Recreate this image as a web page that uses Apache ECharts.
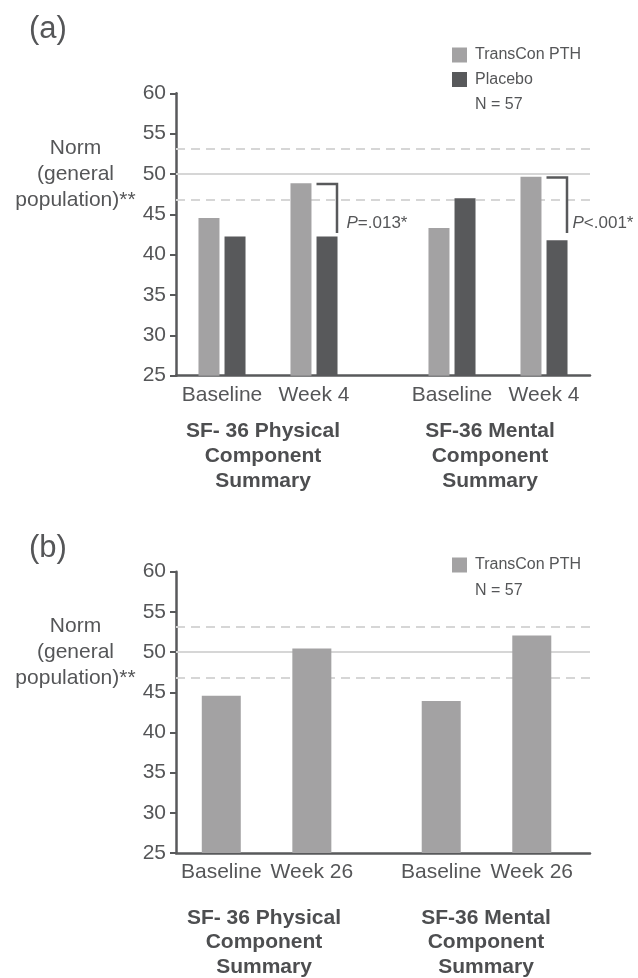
<!DOCTYPE html>
<html>
<head>
<meta charset="utf-8">
<script src="https://cdn.jsdelivr.net/npm/echarts@6/dist/echarts.min.js"></script>
<style>
  html, body { margin: 0; padding: 0; background: #fff; }
  #chart { width: 638px; height: 978px; }
</style>
</head>
<body>
<div id="chart"></div>
<script>
// ---- data ----
const timepointsA = ['Baseline', 'Week 4'];
const timepointsB = ['Baseline', 'Week 26'];
const components = ['SF- 36 Physical\nComponent\nSummary', 'SF-36 Mental\nComponent\nSummary'];
// order: PCS baseline, PCS week, MCS baseline, MCS week
const transconA = [44.55, 48.85, 43.3, 49.65];
const placeboA = [42.25, 42.25, 47.0, 41.8];
const transconB = [44.55, 50.45, 43.9, 52.05];
const normMean = 50;
const normBand = [46.85, 53.15];
const pLabels = ['=.013*', '<.001*'];
const bracketEnd = 42.7;
const nLabel = 'N = 57';
const yMin = 25, yMax = 60, yStep = 5;

// ---- layout helpers ----
const font = 'Liberation Sans, Arial, Helvetica, sans-serif';
const txt = '#555658';
const light = '#a3a2a3';
const dark = '#58595b';

// slot positions of the four bars/pairs on each axis
const slotsA = [1, 3, 6, 8], countA = 10;
const slotsB = [3, 10, 20, 27], countB = 32;

function spread (values, slots, count) {
  const out = new Array(count).fill('-');
  slots.forEach((s, i) => { out[s] = values[i] });
  return out;
}
const labelsA = spread(timepointsA.concat(timepointsA), slotsA, countA).map(v => v === '-' ? '' : v);
const labelsB = spread(timepointsB.concat(timepointsB), slotsB, countB).map(v => v === '-' ? '' : v);

const normLines = {
  silent: true,
  symbol: 'none',
  z: 1,
  label: { show: false },
  data: [
    { yAxis: normMean, lineStyle: { type: 'solid', color: '#d6d6d6', width: 2 } },
    { yAxis: normBand[0], lineStyle: { type: [9, 6], color: '#d6d6d6', width: 2 } },
    { yAxis: normBand[1], lineStyle: { type: [9, 6], color: '#d6d6d6', width: 2 } }
  ]
};

function yAxisOpt (gridIndex) {
  return {
    gridIndex: gridIndex,
    type: 'value',
    min: yMin,
    max: yMax,
    interval: yStep,
    axisLine: { show: true, lineStyle: { color: dark, width: 2.5 } },
    axisTick: { show: true, length: 6, lineStyle: { color: dark, width: 2 } },
    axisLabel: { color: txt, fontSize: 21, fontFamily: font, margin: 10 },
    splitLine: { show: false }
  };
}
function xAxisOpt (gridIndex, labels, boundaryGap) {
  return {
    gridIndex: gridIndex,
    type: 'category',
    data: labels,
    boundaryGap: boundaryGap,
    axisLine: { show: true, lineStyle: { color: dark, width: 2.5 } },
    axisTick: { show: false },
    axisLabel: { color: txt, fontSize: 21, fontFamily: font, margin: 9, interval: 0 },
    splitLine: { show: false }
  };
}

// bracket data: [slot of week pair, transcon value]
const bracketData = [
  [slotsA[1], transconA[1] ],
  [slotsA[3], transconA[3] ]
];

function textEl (x, y, text, opts) {
  return {
    type: 'text',
    x: x,
    y: y,
    silent: true,
    style: Object.assign({
      text: text,
      fill: txt,
      font: '21px ' + font,
      textAlign: 'center',
      textVerticalAlign: 'top'
    }, opts || {})
  };
}

const chart = echarts.init(document.getElementById('chart'));
const option = {
  animation: false,
  backgroundColor: '#fff',
  grid: [
    { left: 176, right: 48, top: 93.3, bottom: 978 - 375.7 },
    { left: 176, right: 48, top: 571.7, bottom: 978 - 853 }
  ],
  legend: [
    {
      data: ['TransCon PTH', 'Placebo'],
      orient: 'vertical', left: 452, top: 47, padding: 0,
      itemWidth: 15, itemHeight: 15, itemGap: 8.5, icon: 'rect',
      selectedMode: false,
      textStyle: { color: txt, fontSize: 16, fontFamily: font, padding: [0, 0, 0, 3] }
    },
    {
      data: ['TransCon PTH'],
      orient: 'vertical', left: 452, top: 557, padding: 0,
      itemWidth: 15, itemHeight: 15, icon: 'rect',
      selectedMode: false,
      textStyle: { color: txt, fontSize: 16, fontFamily: font, padding: [0, 0, 0, 3] }
    }
  ],
  xAxis: [xAxisOpt(0, labelsA, false), xAxisOpt(1, labelsB, true)],
  yAxis: [yAxisOpt(0), yAxisOpt(1)],
  series: [
    {
      name: 'TransCon PTH', type: 'bar', xAxisIndex: 0, yAxisIndex: 0,
      data: spread(transconA, slotsA, countA),
      barWidth: 21, barGap: '24%', z: 2,
      itemStyle: { color: light },
      markLine: normLines
    },
    {
      name: 'Placebo', type: 'bar', xAxisIndex: 0, yAxisIndex: 0,
      data: spread(placeboA, slotsA, countA),
      barWidth: 21, barGap: '24%', z: 2,
      itemStyle: { color: dark }
    },
    {
      name: 'TransCon PTH', type: 'bar', xAxisIndex: 1, yAxisIndex: 1,
      data: spread(transconB, slotsB, countB),
      barWidth: 39, z: 2,
      itemStyle: { color: light },
      markLine: normLines
    },
    {
      type: 'custom', xAxisIndex: 0, yAxisIndex: 0, z: 4, silent: true,
      data: bracketData,
      renderItem: function (params, api) {
        const slot = api.value(0);
        const top = api.coord([slot, api.value(1)]);
        const bot = api.coord([slot, bracketEnd]);
        const x0 = top[0] + 2.5;
        const x1 = top[0] + 23;
        const y0 = top[1] + 0.8;
        return {
          type: 'group',
          children: [
            {
              type: 'polyline',
              shape: { points: [[x0, y0], [x1, y0], [x1, bot[1]]] },
              style: { stroke: dark, lineWidth: 2.5, fill: null }
            },
            {
              type: 'text',
              x: x1 + (params.dataIndex === 0 ? 9.5 : 5.5),
              y: bot[1] - 9.5,
              style: {
                text: '{i|P}{n|' + pLabels[params.dataIndex] + '}',
                textAlign: 'left',
                textVerticalAlign: 'middle',
                rich: {
                  i: { fontStyle: 'italic', fontSize: 17, fontFamily: font, fill: txt, color: txt },
                  n: { fontSize: 17, fontFamily: font, fill: txt, color: txt }
                }
              }
            }
          ]
        };
      }
    }
  ],
  graphic: [
    textEl(29, 29, '(a)', { font: '31px ' + font, textAlign: 'left', textVerticalAlign: 'middle' }),
    textEl(29, 548, '(b)', { font: '31px ' + font, textAlign: 'left', textVerticalAlign: 'middle' }),
    textEl(75.5, 135, 'Norm\n(general\npopulation)**', { lineHeight: 26 }),
    textEl(75.5, 613, 'Norm\n(general\npopulation)**', { lineHeight: 26 }),
    textEl(475, 105, nLabel, { font: '16px ' + font, textAlign: 'left', textVerticalAlign: 'middle' }),
    textEl(475, 591, nLabel, { font: '16px ' + font, textAlign: 'left', textVerticalAlign: 'middle' }),
    textEl(263, 418.5, components[0], { font: 'bold 21px ' + font, lineHeight: 25, fill: '#4d4e50' }),
    textEl(490, 418.5, components[1], { font: 'bold 21px ' + font, lineHeight: 25, fill: '#4d4e50' }),
    textEl(264, 905.5, components[0], { font: 'bold 21px ' + font, lineHeight: 24.5, fill: '#4d4e50' }),
    textEl(486, 905.5, components[1], { font: 'bold 21px ' + font, lineHeight: 24.5, fill: '#4d4e50' })
  ]
};
chart.setOption(option);
</script>
</body>
</html>
